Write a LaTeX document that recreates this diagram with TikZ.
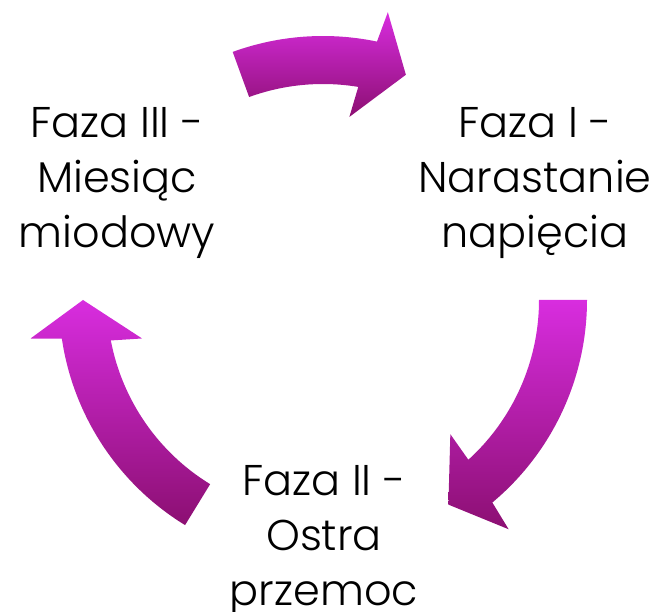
\documentclass[tikz,border=0pt]{standalone}
\usepackage{fontspec}
\setmainfont{Poppins}[UprightFont=* Light]
\definecolor{arrlight}{HTML}{D82DDF}
\definecolor{arrdark}{HTML}{8C0F72}
\tikzset{
  cyclearrow/.style={top color=arrlight, bottom color=arrdark, draw=none},
  phase/.style={align=center, font=\fontsize{43}{55}\selectfont, text=black, inner sep=0pt}
}
\newcommand\cycarrow[3]{% name, tail angle, tip angle
  \path[cyclearrow] (#2:264) arc[start angle=#2, end angle={#3+8.4}, radius=264]
    -- ({#3+7.5}:295) -- (#3:240) coordinate (#1) -- ({#3+12}:185) -- ({#3+10.8}:216)
    arc[start angle={#3+10.8}, end angle=#2, radius=216] -- cycle;
}
\begin{document}
\begin{tikzpicture}[x=1pt,y=1pt]
\useasboundingbox (0,0) rectangle (656,611);
\begin{scope}[shift={(323,311)}]
  \cycarrow{t1}{110}{69.8}
  \cycarrow{t2}{0}{-58.5}
  \cycarrow{t3}{238.5}{180}
\end{scope}
\node[phase] (f1) at (535,428) {Faza I -\\Narastanie\\napięcia};
\node[phase] (f3) at (117,428) {Faza III -\\Miesiąc\\miodowy};
\node[phase] (f2) at (324,70) {Faza II -\\Ostra\\przemoc};
\end{tikzpicture}
\end{document}
